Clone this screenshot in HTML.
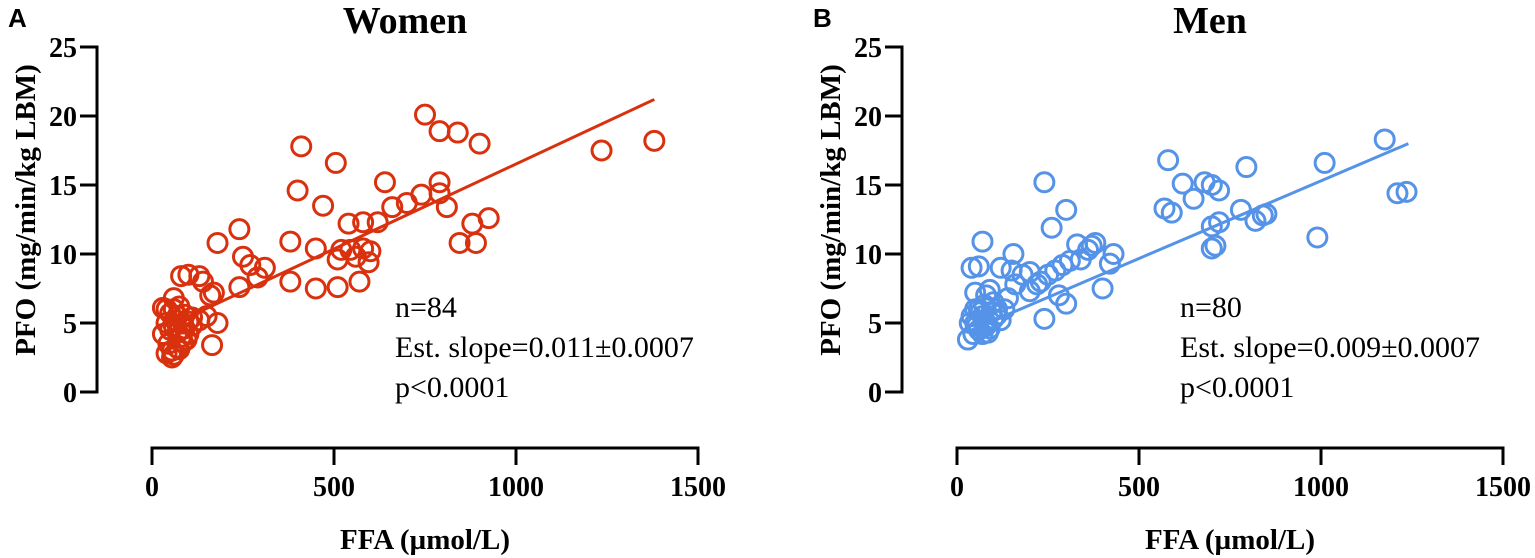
<!DOCTYPE html>
<html><head><meta charset="utf-8"><style>
body{margin:0;background:#fff;}
svg{display:block;font-family:"Liberation Serif",serif;}
</style></head><body>
<svg id="chart" width="1535" height="558" viewBox="0 0 1535 558" xmlns="http://www.w3.org/2000/svg">
<g id="pA"></g>
<g id="pB"></g>
</svg>
<script>
const yTicks=[0,5,10,15,20,25];
const xTicks=[0,500,1000,1500];
const womenFFA=[750,790,840,900,410,505,1235,1380,400,640,790,790,810,740,470,700,660,620,540,580,925,880,845,890,380,240,180,250,270,310,450,520,545,580,600,595,560,510,380,450,510,570,290,240,80,100,130,140,160,170,60,40,30,50,70,90,110,130,180,150,165,40,50,60,70,80,90,100,30,45,55,70,85,40,55,60,75,95,65,85,100,110,75,60];
const womenPFO=[20.1,18.9,18.8,18.0,17.8,16.6,17.5,18.2,14.6,15.2,15.2,14.4,13.4,14.3,13.5,13.7,13.4,12.3,12.2,12.3,12.6,12.2,10.8,10.8,10.9,11.8,10.8,9.8,9.2,9.0,10.4,10.3,10.3,10.4,10.2,9.4,9.8,9.6,8.0,7.5,7.6,8.0,8.3,7.6,8.4,8.5,8.4,8.0,7.0,7.2,6.8,6.0,6.1,5.7,5.5,5.6,5.4,5.2,5.0,5.5,3.4,5.0,4.5,4.8,4.3,4.0,4.6,4.2,4.2,3.5,3.0,3.2,3.6,2.8,2.5,2.7,3.1,3.8,5.2,5.0,5.1,4.8,6.2,6.0];
const womenFitX=[40,1380];
const womenFitY=[4.7,21.2];
const menFFA=[580,620,680,700,720,650,795,1010,1175,1210,1235,240,300,570,590,780,820,840,850,700,720,700,710,990,260,330,370,380,430,420,310,290,270,250,200,180,150,155,120,60,70,220,160,280,300,400,240,90,80,100,110,50,40,60,70,80,90,100,120,40,50,60,70,80,30,45,55,65,75,95,50,35,85,110,130,140,340,360,200,230];
const menPFO=[16.8,15.1,15.2,15.0,14.6,14.0,16.3,16.6,18.3,14.4,14.5,15.2,13.2,13.3,13.0,13.2,12.4,12.8,12.9,12.0,12.3,10.4,10.6,11.2,11.9,10.7,10.6,10.8,10.0,9.3,9.5,9.2,8.8,8.5,8.7,8.5,8.8,10.0,9.0,9.1,10.9,7.8,7.8,7.0,6.4,7.5,5.3,7.4,7.0,6.5,6.0,7.2,9.0,6.0,5.5,5.0,4.6,5.3,5.2,5.5,5.0,4.5,4.2,4.8,3.8,4.2,4.8,5.8,6.3,5.8,6.0,5.0,4.3,5.6,6.0,6.8,9.6,10.3,7.3,8.0];
const menFitX=[40,1240];
const menFitY=[4.5,18.0];

const NS="http://www.w3.org/2000/svg";
function mk(parent,tag,attrs,text){const e=document.createElementNS(NS,tag);for(const k in attrs)e.setAttribute(k,attrs[k]);if(text!==undefined)e.textContent=text;parent.appendChild(e);return e;}

function panel(g,off,statX,letter,title,xs,ys,fx,fy,color,stats){
  const axX=97+off, x0=152+off, x1=698+off, y0=392, y1=47, axY=448;
  const sx=v=>x0+(v/1500)*(x1-x0);
  const sy=v=>y0-(v/25)*(y0-y1);
  let t;
  t=mk(g,'text',{x:8+off,y:27,'font-family':'Liberation Sans, sans-serif','font-weight':'bold','font-size':26},letter);
  
  
  t=mk(g,'text',{x:405+off,y:33,'text-anchor':'middle','font-weight':'bold','font-size':38},title);
  
  
  const ya=mk(g,'g',{});
  
  
  mk(ya,'line',{x1:axX,y1:y1-1.5,x2:axX,y2:y0+1.5,stroke:'#000','stroke-width':3});
  yTicks.forEach(v=>{
    mk(ya,'line',{x1:axX-17,y1:sy(v),x2:axX,y2:sy(v),stroke:'#000','stroke-width':3});
    const l=mk(ya,'text',{x:axX-20,y:sy(v)+10,'text-anchor':'end','font-weight':'bold','font-size':28},String(v));
    
    
  });
  t=mk(g,'text',{x:0,y:0,transform:`translate(${35+off},210) rotate(-90)`,'text-anchor':'middle','font-weight':'bold','font-size':29},'PFO (mg/min/kg LBM)');
  
  
  const xa=mk(g,'g',{});
  
  
  mk(xa,'line',{x1:x0-1.5,y1:axY,x2:x1+1.5,y2:axY,stroke:'#000','stroke-width':3});
  xTicks.forEach(v=>{
    mk(xa,'line',{x1:sx(v),y1:axY,x2:sx(v),y2:axY+17,stroke:'#000','stroke-width':3});
    const l=mk(xa,'text',{x:sx(v),y:496,'text-anchor':'middle','font-weight':'bold','font-size':28},String(v));
    
    
  });
  t=mk(g,'text',{x:425+off,y:549,'text-anchor':'middle','font-weight':'bold','font-size':29},'FFA (µmol/L)');
  
  
  const fit=mk(g,'line',{x1:sx(fx[0]),y1:sy(fy[0]),x2:sx(fx[1]),y2:sy(fy[1]),stroke:color,'stroke-width':3});
  
  
  xs.forEach((v,i)=>{
    const c=mk(g,'circle',{cx:sx(v),cy:sy(ys[i]),r:9.5,fill:'none',stroke:color,'stroke-width':3});
    
    
  });
  stats.forEach((s,i)=>{
    const l=mk(g,'text',{x:statX,y:317+i*40,'font-size':30},s);
    
    
  });
}
panel(document.getElementById('pA'),0,395,'A','Women',womenFFA,womenPFO,womenFitX,womenFitY,'#d9300e',['n=84','Est. slope=0.011±0.0007','p<0.0001']);
panel(document.getElementById('pB'),805,1180,'B','Men',menFFA,menPFO,menFitX,menFitY,'#5593e8',['n=80','Est. slope=0.009±0.0007','p<0.0001']);
</script>
</body></html>
